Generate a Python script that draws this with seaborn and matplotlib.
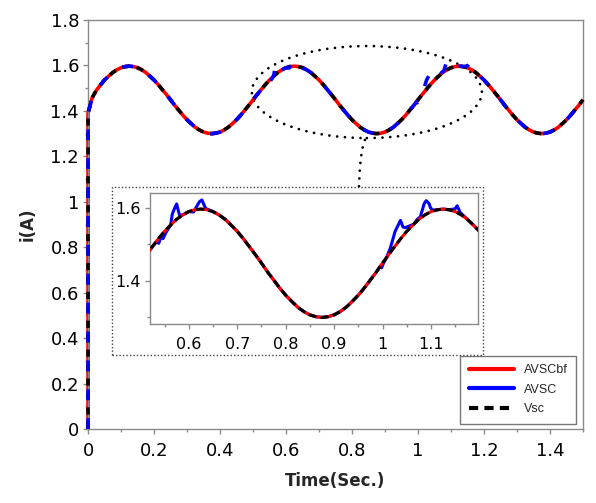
import matplotlib
matplotlib.use("Agg")
import matplotlib.pyplot as plt
from matplotlib.patches import Ellipse, Rectangle
from matplotlib.lines import Line2D
from matplotlib.ticker import MultipleLocator, FuncFormatter
import seaborn as sns
import pandas as pd

# ---------------- data ----------------
time_s = [0.0, 0.0,
          0.0125, 0.025, 0.0375, 0.05, 0.0625, 0.075, 0.0875, 0.1, 0.1125, 0.125,
          0.1375, 0.15, 0.1625, 0.175, 0.1875, 0.2, 0.2125, 0.225, 0.2375, 0.25,
          0.2625, 0.275, 0.2875, 0.3, 0.3125, 0.325, 0.3375, 0.35, 0.3625, 0.375,
          0.3875, 0.4, 0.4125, 0.425, 0.4375, 0.45, 0.4625, 0.475, 0.4875, 0.5,
          0.5125, 0.525, 0.5375, 0.55, 0.5625, 0.575, 0.5875, 0.6, 0.6125, 0.625,
          0.6375, 0.65, 0.6625, 0.675, 0.6875, 0.7, 0.7125, 0.725, 0.7375, 0.75,
          0.7625, 0.775, 0.7875, 0.8, 0.8125, 0.825, 0.8375, 0.85, 0.8625, 0.875,
          0.8875, 0.9, 0.9125, 0.925, 0.9375, 0.95, 0.9625, 0.975, 0.9875, 1.0,
          1.0125, 1.025, 1.0375, 1.05, 1.0625, 1.075, 1.0875, 1.1, 1.1125, 1.125,
          1.1375, 1.15, 1.1625, 1.175, 1.1875, 1.2, 1.2125, 1.225, 1.2375, 1.25,
          1.2625, 1.275, 1.2875, 1.3, 1.3125, 1.325, 1.3375, 1.35, 1.3625, 1.375,
          1.3875, 1.4, 1.4125, 1.425, 1.4375, 1.45, 1.4625, 1.475, 1.4875, 1.5]

current_ref = [0.0, 1.39,
               1.458, 1.490, 1.514, 1.536, 1.553, 1.569, 1.581, 1.590, 1.595, 1.597,
               1.595, 1.590, 1.581, 1.569, 1.553, 1.536, 1.516, 1.494, 1.472, 1.449,
               1.425, 1.403, 1.381, 1.361, 1.344, 1.328, 1.316, 1.307, 1.302, 1.300,
               1.302, 1.307, 1.316, 1.328, 1.344, 1.361, 1.381, 1.403, 1.425, 1.449,
               1.472, 1.494, 1.516, 1.536, 1.553, 1.569, 1.581, 1.590, 1.595, 1.597,
               1.595, 1.590, 1.581, 1.569, 1.553, 1.536, 1.516, 1.494, 1.472, 1.449,
               1.425, 1.403, 1.381, 1.361, 1.344, 1.328, 1.316, 1.307, 1.302, 1.300,
               1.302, 1.307, 1.316, 1.328, 1.344, 1.361, 1.381, 1.403, 1.425, 1.449,
               1.472, 1.494, 1.516, 1.536, 1.553, 1.569, 1.581, 1.590, 1.595, 1.597,
               1.595, 1.590, 1.581, 1.569, 1.553, 1.536, 1.516, 1.494, 1.472, 1.449,
               1.425, 1.403, 1.381, 1.361, 1.344, 1.328, 1.316, 1.307, 1.302, 1.300,
               1.302, 1.307, 1.316, 1.328, 1.344, 1.361, 1.381, 1.403, 1.425, 1.449]

# AVSC (blue) deviations
glitch1_t = [0.534, 0.538, 0.543, 0.547, 0.553, 0.5625, 0.566, 0.571, 0.575, 0.578,
             0.581, 0.5875, 0.600, 0.610, 0.615, 0.622, 0.627, 0.631, 0.635, 0.640]
glitch1_i = [1.508, 1.503, 1.522, 1.516, 1.533, 1.553, 1.583, 1.600, 1.611, 1.595,
             1.580, 1.581, 1.590, 1.589, 1.601, 1.617, 1.622, 1.610, 1.598, 1.596]
glitch2_t = [0.995, 0.998, 1.002, 1.008, 1.016, 1.026, 1.037, 1.042, 1.047, 1.054,
             1.064, 1.071, 1.078, 1.086, 1.090, 1.096, 1.099, 1.104, 1.1125, 1.125,
             1.1375, 1.150, 1.154, 1.157, 1.160]
glitch2_i = [1.440, 1.436, 1.449, 1.463, 1.490, 1.536, 1.566, 1.548, 1.546, 1.550,
             1.555, 1.568, 1.576, 1.612, 1.620, 1.612, 1.600, 1.594, 1.595, 1.597,
             1.595, 1.598, 1.606, 1.597, 1.588]
glitch_windows = [(0.53, 0.645), (0.99, 1.165)]

series_names = ["AVSCbf", "AVSC", "Vsc"]
series_colors = ["#ff0000", "#0000ff", "#000000"]

# ---------------- build tables ----------------
df_ref = pd.DataFrame({"t": time_s, "i": current_ref})
pts = [(t, v) for t, v in zip(time_s, current_ref)
       if not any(a <= t <= b for a, b in glitch_windows)]
pts += list(zip(glitch1_t, glitch1_i)) + list(zip(glitch2_t, glitch2_i))
pts = sorted(pts, key=lambda p: p[0])
df_avsc = pd.DataFrame(pts, columns=["t", "i"])

# ---------------- figure ----------------
sns.set_style("ticks")
plt.rcParams["font.family"] = ["DejaVu Sans"]
plt.rcParams["path.simplify"] = False
fig = plt.figure(figsize=(5.96, 5.03), dpi=100)
ax = fig.add_axes([0.1477, 0.1471, 0.8305, 0.8131])


def line(a, df, color, lw, ls, z):
    sns.lineplot(data=df, x="t", y="i", ax=a, color=color, lw=lw, estimator=None,
                 sort=False, legend=False, linestyle=ls, dash_capstyle="butt",
                 solid_capstyle="butt", zorder=z)


# main: red solid, black dashes, blue dashes on top
line(ax, df_ref, series_colors[0], 2.6, "-", 2)
line(ax, df_ref, series_colors[2], 2.6, (0, (2.0, 2.0)), 3)
line(ax, df_avsc, series_colors[1], 2.6, (0, (3.0, 5.0)), 4)
for ln in ax.lines:
    ln.set_clip_on(False)

ax.set_xlim(0, 1.5)
ax.set_ylim(0, 1.8)
ax.xaxis.set_major_locator(MultipleLocator(0.2))
ax.xaxis.set_minor_locator(MultipleLocator(0.1))
ax.yaxis.set_major_locator(MultipleLocator(0.2))
ax.yaxis.set_minor_locator(MultipleLocator(0.1))
fmt = FuncFormatter(lambda v, p: ("%.1f" % v).rstrip("0").rstrip(".") if abs(v) > 1e-9 else "0")
ax.xaxis.set_major_formatter(fmt)
ax.yaxis.set_major_formatter(fmt)
for s in ax.spines.values():
    s.set_color("#8a8a8a")
    s.set_linewidth(1.0)
ax.tick_params(which="major", direction="out", length=3.5, width=1, color="#8a8a8a",
               labelsize=13, labelcolor="black")
ax.tick_params(which="minor", direction="out", length=2.5, width=1, color="#8a8a8a")
ax.tick_params(axis="x", which="major", pad=6)
ax.tick_params(axis="y", which="major", pad=3)
ax.set_xlabel("Time(Sec.)", fontsize=12, fontweight="bold")
ax.set_ylabel("i(A)", fontsize=12, fontweight="bold")
ax.xaxis.set_label_coords(0.5, -0.105)
ax.yaxis.set_label_coords(-0.103, 0.5)

# ellipse highlight and connector
ell = Ellipse((0.845, 1.483), 0.697, 0.405, fill=False, edgecolor="black", lw=2.0,
              linestyle=(0, (0.01, 2.8)), capstyle="round", clip_on=False)
ax.add_patch(ell)
ax.plot([0.839, 0.830, 0.824, 0.821], [1.272, 1.228, 1.153, 1.065], color="black",
        lw=2.0, linestyle=(0, (0.01, 2.8)), dash_capstyle="round", clip_on=False)

# legend
handles = [Line2D([], [], color=series_colors[0], lw=3),
           Line2D([], [], color=series_colors[1], lw=3),
           Line2D([], [], color=series_colors[2], lw=3, linestyle=(0, (2.2, 1.5)))]
leg = ax.legend(handles, series_names, loc="lower right",
                bbox_to_anchor=(576 / 596, 79 / 503), bbox_transform=fig.transFigure,
                borderaxespad=0, fancybox=False, frameon=True, handlelength=3.6,
                handletextpad=0.8, labelspacing=0.6, borderpad=0.7,
                prop={"family": ["Liberation Sans Narrow", "Liberation Sans"], "size": 9})
leg.get_frame().set_edgecolor("#555555")
leg.get_frame().set_linewidth(1.0)

# dotted outer frame of the inset
fig.patches.append(Rectangle((112 / 596, 148 / 503), 371 / 596, 168 / 503,
                             transform=fig.transFigure, fill=True, facecolor="white",
                             edgecolor="#444444", lw=1.0, linestyle=(0, (1, 1.5)),
                             zorder=3))

# inset: blue underneath, red, black dashes on top
axin = fig.add_axes([150 / 596, 179 / 503, 328 / 596, 131 / 503], zorder=5)
line(axin, df_avsc, series_colors[1], 2.2, "-", 2)
line(axin, df_ref, series_colors[0], 2.2, "-", 3)
line(axin, df_ref, series_colors[2], 2.2, (0, (2.6, 1.4)), 4)
axin.set_xlim(0.52, 1.197)
axin.set_ylim(1.282, 1.641)
axin.xaxis.set_major_locator(MultipleLocator(0.1))
axin.xaxis.set_minor_locator(MultipleLocator(0.05))
axin.yaxis.set_major_locator(MultipleLocator(0.2))
axin.yaxis.set_minor_locator(MultipleLocator(0.1))
axin.xaxis.set_major_formatter(fmt)
axin.yaxis.set_major_formatter(fmt)
axin.set_xlabel("")
axin.set_ylabel("")
for s in axin.spines.values():
    s.set_color("#8a8a8a")
    s.set_linewidth(1.0)
axin.tick_params(which="major", direction="out", length=3.5, width=1, color="#8a8a8a",
                 labelsize=11.5, labelcolor="black")
axin.tick_params(which="minor", direction="out", length=2.5, width=1, color="#8a8a8a")
axin.tick_params(axis="x", which="major", pad=6)
axin.tick_params(axis="y", which="major", pad=3)

fig.savefig("out.png", dpi=100)
